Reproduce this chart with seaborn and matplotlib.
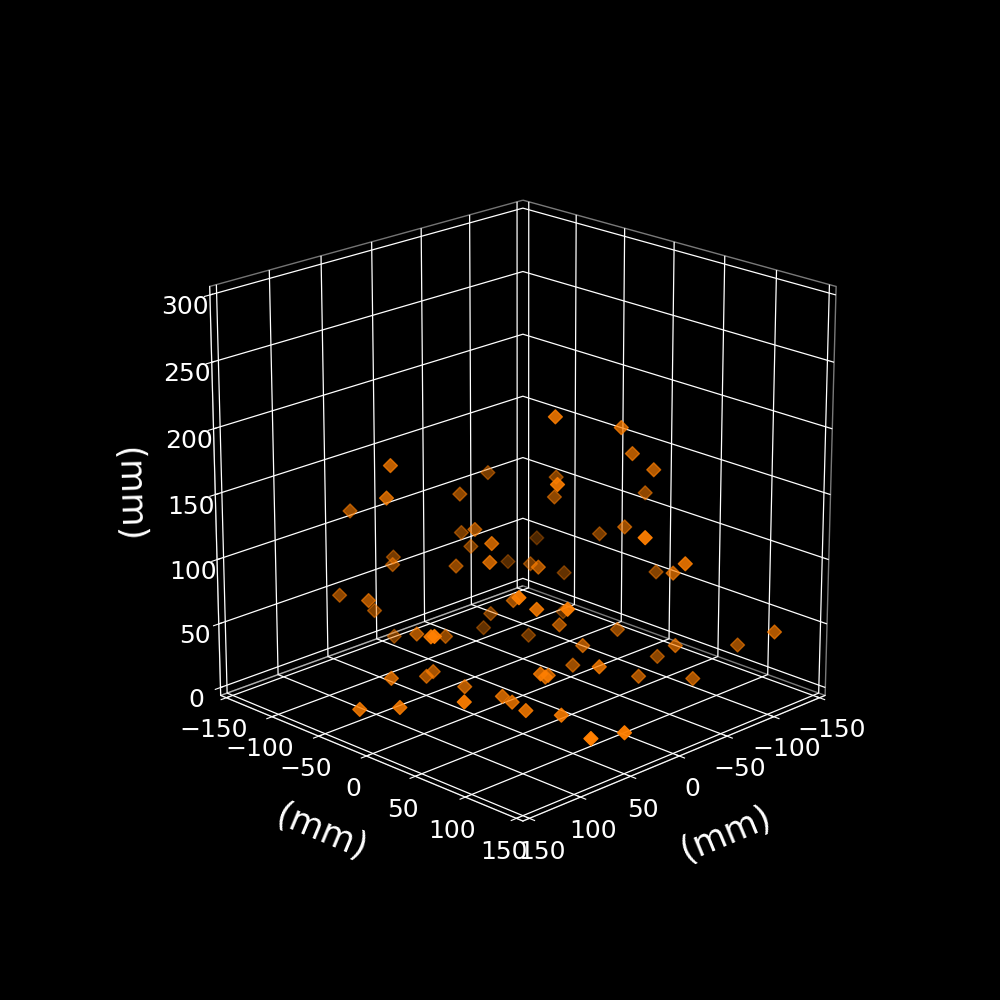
import numpy as np
import matplotlib
matplotlib.use("Agg")
import matplotlib.pyplot as plt
import seaborn as sns

# point positions in mm
x_mm = [42,-66,-28,50,43,-41,-19,-44,4,-2,11,-13,8,-91,-72,-120,52,58,29,39,-26,-42,12,-31,-83,-95,-103,-91,-11,-125,
        -77,-114,-97,-35,-36,-108,-126,-95,-71,16,-101,-46,-70,-86,-45,-93,-139,-140,13,39,80,88,5,-55,79,40,37,34,84,29,
        30,34,12,0,-2,117,99,-106,-46,-19,-70,-95,22,39,13]
y_mm = [-94,-103,-94,-90,-137,-106,-69,-99,-28,-139,-126,-83,-26,-107,-64,-105,-140,-102,-127,35,-36,-76,26,2,18,18,32,-56,24,3,
        -44,-33,9,88,-20,-64,14,60,94,61,-58,-8,-64,13,17,65,85,120,-123,-71,-13,-1,-76,-97,-56,-60,-56,-26,25,8,
        19,37,30,23,24,-49,-26,35,6,59,50,81,61,107,115]
z_mm = [159,124,119,137,113,82,100,72,106,64,65,69,93,45,60,57,48,56,33,91,51,25,72,202,185,162,151,126,161,120,
        117,81,102,131,79,43,60,80,103,83,15,34,3,25,25,25,18,38,9,33,59,65,20,4,14,3,7,3,21,4,
        3,3,23,15,16,3,6,4,6,28,3,3,3,4,3]
xy_ticks = [-150, -100, -50, 0, 50, 100, 150]
z_ticks = [0, 50, 100, 150, 200, 250, 300]

plt.style.use("dark_background")
orange = sns.color_palette("Set1")[4]

fig = plt.figure(figsize=(10, 10), dpi=100)
ax = fig.add_subplot(111, projection="3d")
ax.view_init(elev=20, azim=45)
ax.set_box_aspect((1, 1, 1), zoom=0.95)
ax.set_xlim(-150, 150, view_margin=1/48)
ax.set_ylim(-150, 150, view_margin=1/48)
ax.set_zlim(0, 300, view_margin=1/48)
ax.set_xticks(xy_ticks)
ax.set_yticks(xy_ticks)
ax.set_zticks(z_ticks)
ax.tick_params(labelsize=18)
for axis in (ax.xaxis, ax.yaxis, ax.zaxis):
    axis.set_rotate_label(True)
    axis.pane.fill = False
    axis._axinfo["grid"]["linewidth"] = 0.9
ax.set_xlabel("(mm)", fontsize=25, labelpad=21)
ax.set_ylabel("(mm)", fontsize=25, labelpad=20)
ax.set_zlabel("(mm)", fontsize=25, labelpad=20)

ax.scatter(x_mm, y_mm, z_mm, marker="D", s=50, color=orange)
fig.savefig("out.png", dpi=100)
